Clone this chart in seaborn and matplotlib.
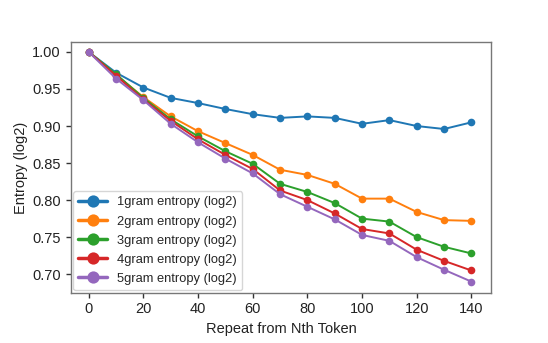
import matplotlib
matplotlib.use('Agg')
import matplotlib.pyplot as plt
import numpy as np
import pandas as pd
import seaborn as sns

# data
repeat_pos = [0, 10, 20, 30, 40, 50, 60, 70, 80, 90, 100, 110, 120, 130, 140]
ent_1gram = [1.000, 0.972, 0.952, 0.938, 0.931, 0.923, 0.916, 0.911, 0.913, 0.911, 0.903, 0.908, 0.900, 0.896, 0.905]
ent_2gram = [1.000, 0.969, 0.939, 0.913, 0.893, 0.877, 0.861, 0.841, 0.834, 0.822, 0.802, 0.802, 0.784, 0.773, 0.772]
ent_3gram = [1.000, 0.970, 0.938, 0.909, 0.886, 0.866, 0.849, 0.822, 0.811, 0.796, 0.775, 0.771, 0.750, 0.737, 0.728]
ent_4gram = [1.000, 0.968, 0.936, 0.907, 0.882, 0.861, 0.842, 0.813, 0.800, 0.782, 0.761, 0.755, 0.733, 0.718, 0.705]
ent_5gram = [1.000, 0.964, 0.935, 0.903, 0.878, 0.856, 0.836, 0.808, 0.791, 0.774, 0.753, 0.745, 0.723, 0.706, 0.690]
series_names = ['1gram entropy (log2)', '2gram entropy (log2)', '3gram entropy (log2)',
                '4gram entropy (log2)', '5gram entropy (log2)']

df = pd.DataFrame({'pos': repeat_pos * 5,
                   'entropy': ent_1gram + ent_2gram + ent_3gram + ent_4gram + ent_5gram,
                   'series': [n for n in series_names for _ in repeat_pos]})

sns.set_theme(style='ticks')
plt.rcParams['font.family'] = ['Liberation Sans', 'DejaVu Sans']

fig = plt.figure(figsize=(5.48, 3.43), dpi=100)
ax = fig.add_axes([0.129, 0.1466, 0.7676, 0.730])

palette = sns.color_palette('tab10', 5)
sns.lineplot(data=df, x='pos', y='entropy', hue='series', palette=palette,
             marker='o', markersize=5.5, markeredgewidth=0, linewidth=1.4, ax=ax)

for s in ax.spines.values():
    s.set_color('#777777')
    s.set_linewidth(1.0)
ax.tick_params(colors='#222222', labelsize=10.5, length=3.5, width=1.0)
ax.tick_params(axis='both', color='#333333')

ax.set_xticks(np.arange(0, 141, 20))
ax.set_yticks([0.70, 0.75, 0.80, 0.85, 0.90, 0.95, 1.00])
ax.set_ylim(0.675, 1.013)
ax.set_xlim(-6.6, 147.3)
ax.set_xlabel('Repeat from Nth Token', fontsize=10.5, color='#222222')
ax.set_ylabel('Entropy (log2)', fontsize=10.5, color='#222222', labelpad=3)

leg = ax.legend(loc='lower left', fontsize=9.3, markerscale=1.6, handlelength=2.2,
                frameon=True, borderaxespad=0.2, labelspacing=0.55)
for line in leg.get_lines():
    line.set_linewidth(2.5)

fig.savefig('out.png', dpi=100)
